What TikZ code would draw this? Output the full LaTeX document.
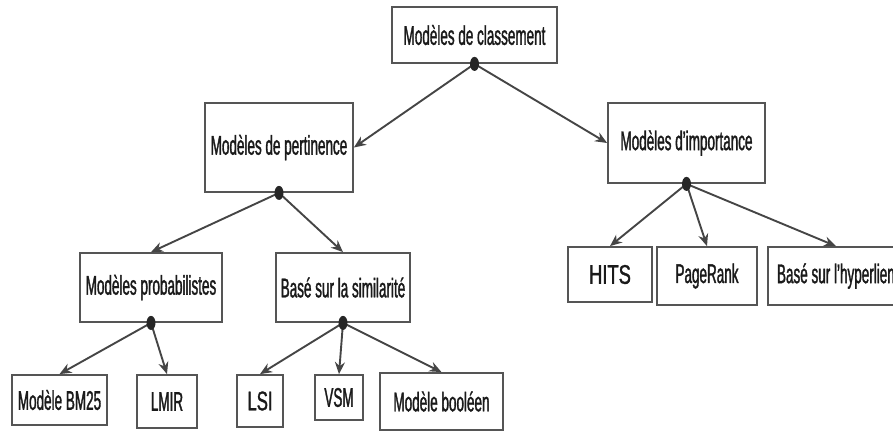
\documentclass[tikz,border=0pt]{standalone}
\usepackage{fontspec}
\setmainfont{Liberation Sans}[FakeStretch=0.5, FakeBold=1.2]
\newfontfamily\widehits{Liberation Sans}[FakeStretch=0.68, FakeBold=1.2]
\newfontfamily\widelsi{Liberation Sans}[FakeStretch=0.62, FakeBold=1.2]
\usetikzlibrary{arrows.meta}
\definecolor{edgec}{HTML}{454545}
\definecolor{framec}{HTML}{555555}
\definecolor{txtc}{HTML}{1A1A1A}
\tikzset{
  box/.style={draw=framec, line width=1.8pt, fill=white, inner sep=0pt,
    text=txtc, font=\fontsize{27}{30}\selectfont},
  link/.style={draw=edgec, line width=1.9pt, -{Stealth[length=12pt,width=10pt]}},
  knot/.style={fill=black!85}
}
\begin{document}
\begin{tikzpicture}[x=1pt,y=-1pt]
\useasboundingbox (0,0) rectangle (893,432);
% level 0
\node[box, minimum width=165pt, minimum height=56pt] (root) at (474.5,35) {Modèles de classement};
% level 1
\node[box, minimum width=148pt, minimum height=89pt] (pert) at (279,147.5) {Modèles de pertinence};
\node[box, minimum width=157pt, minimum height=80pt] (imp) at (686.5,143) {Modèles d'importance};
% level 2
\node[box, minimum width=142pt, minimum height=69pt] (prob) at (151,287.5) {Modèles probabilistes};
\node[box, minimum width=134pt, minimum height=69pt] (sim) at (343,287.5) {Basé sur la similarité};
\node[box, minimum width=84pt, minimum height=55pt] (hits) at (610,274.5) {\widehits HITS};
\node[box, minimum width=100pt, minimum height=58pt] (pr) at (707,276) {PageRank};
\node[box, minimum width=136pt, minimum height=58pt, anchor=west] (hyp) at (767,276) {Basé sur l'hyperlien};
% level 3
\node[box, minimum width=95pt, minimum height=50pt] (bm) at (59.5,400) {Modèle BM25};
\node[box, minimum width=60pt, minimum height=53pt] (lmir) at (167,401.5) {LMIR};
\node[box, minimum width=46pt, minimum height=52pt] (lsi) at (260,401) {\widelsi LSI};
\node[box, minimum width=48pt, minimum height=45pt] (vsm) at (339,397.5) {VSM};
\node[box, minimum width=123pt, minimum height=57pt] (bool) at (441.5,401.5) {Modèle booléen};
% edges
\draw[link] (root.south) -- (pert.east);
\draw[link] (root.south) -- (imp.west);
\draw[link] (pert.south) -- (prob.north);
\draw[link] (pert.south) -- (sim.north);
\draw[link] (imp.south) -- (hits.north);
\draw[link] (imp.south) -- (pr.north);
\draw[link] (imp.south) -- (hyp.north);
\draw[link] (prob.south) -- (bm.north);
\draw[link] (prob.south) -- (lmir.north);
\draw[link] (sim.south) -- (lsi.north);
\draw[link] (sim.south) -- (vsm.north);
\draw[link] (sim.south) -- (bool.north);
% junction dots
\foreach \n in {root,pert,imp,prob,sim}
  \fill[knot] (\n.south) ellipse (4.5pt and 7pt);
\end{tikzpicture}
\end{document}
